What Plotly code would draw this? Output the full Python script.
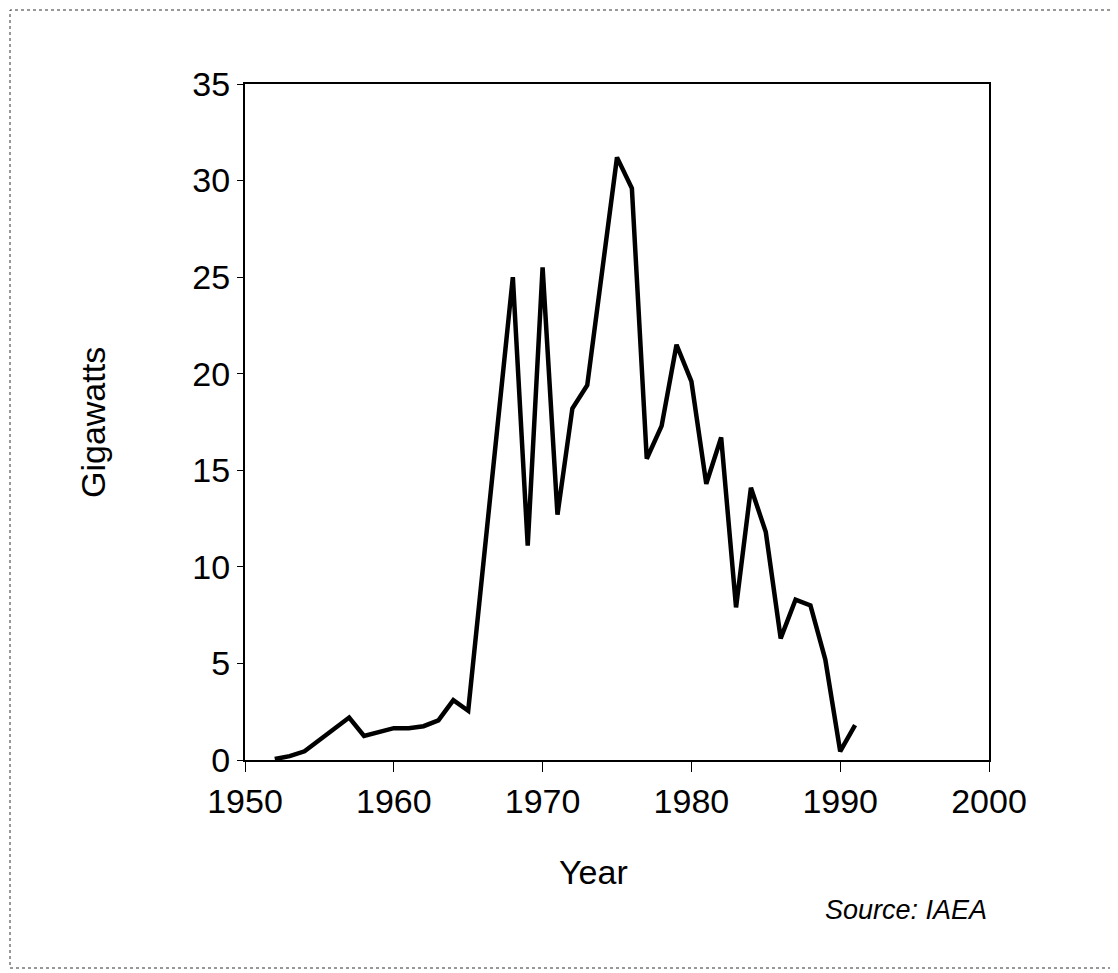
import plotly.graph_objects as go

years = list(range(1952, 1992))
gigawatts = [0.05, 0.2, 0.45, 1.05, 1.65, 2.2, 1.25, 1.45, 1.65, 1.65,
             1.75, 2.05, 3.1, 2.55, 10.0, 17.5, 25.0, 11.1, 25.5, 12.7,
             18.2, 19.4, 25.2, 31.2, 29.6, 15.6, 17.3, 21.5, 19.6, 14.3,
             16.7, 7.9, 14.1, 11.8, 6.3, 8.3, 8.0, 5.2, 0.45, 1.8]

x_ticks = [1950, 1960, 1970, 1980, 1990, 2000]
y_ticks = [0, 5, 10, 15, 20, 25, 30, 35]

FONT = "Arial, Liberation Sans, Helvetica, sans-serif"

# page is rendered with an 8px body margin; compensate
OFF = 8
W, H = 1118 - OFF, 973 - OFF
L, T = 245 - OFF, 84 - OFF
R = W - (989 - OFF)
B = H - (760 - OFF)
pw, ph = W - L - R, H - T - B

def px(xp):
    return (xp - OFF - L) / pw

def py(yp):
    return (H - B - (yp - OFF)) / ph

fig = go.Figure()
fig.add_trace(go.Scatter(x=years, y=gigawatts, mode="lines",
                         line=dict(color="black", width=4.5),
                         showlegend=False, hoverinfo="x+y"))

fig.update_layout(
    width=W, height=H,
    margin=dict(l=L, r=R, t=T, b=B),
    paper_bgcolor="white", plot_bgcolor="white",
    font=dict(family=FONT, size=34, color="black"),
    xaxis=dict(range=[1950, 2000], tickvals=x_ticks, ticks="outside",
               ticklen=10, tickwidth=1, tickcolor="black",
               showline=True, linecolor="black", linewidth=2, mirror=True,
               showgrid=False, zeroline=False,
               tickfont=dict(size=34, family=FONT)),
    yaxis=dict(range=[0, 35], tickvals=y_ticks, ticks="outside",
               ticklen=6, tickwidth=1, tickcolor="black",
               showline=True, linecolor="black", linewidth=2, mirror=True,
               showgrid=False, zeroline=False,
               tickfont=dict(size=34, family=FONT)),
    annotations=[
        dict(text="Year", x=px(593), y=py(872), xref="paper", yref="paper",
             showarrow=False, font=dict(size=34, family=FONT),
             xanchor="center", yanchor="middle"),
        dict(text="Gigawatts", x=px(93), y=py(423), xref="paper", yref="paper",
             showarrow=False, textangle=-90, font=dict(size=34, family=FONT),
             xanchor="center", yanchor="middle"),
        dict(text="<i>Source: IAEA</i>", x=px(989), y=py(910), xref="paper",
             yref="paper", showarrow=False, font=dict(size=27, family=FONT),
             xanchor="right", yanchor="middle"),
    ],
    shapes=[
        dict(type="rect", xref="paper", yref="paper",
             x0=px(10), x1=px(1113), y0=py(968), y1=py(10),
             line=dict(color="#333333", width=1, dash="dot"),
             fillcolor="rgba(0,0,0,0)", layer="below"),
    ],
)

fig.write_html("out.html")
